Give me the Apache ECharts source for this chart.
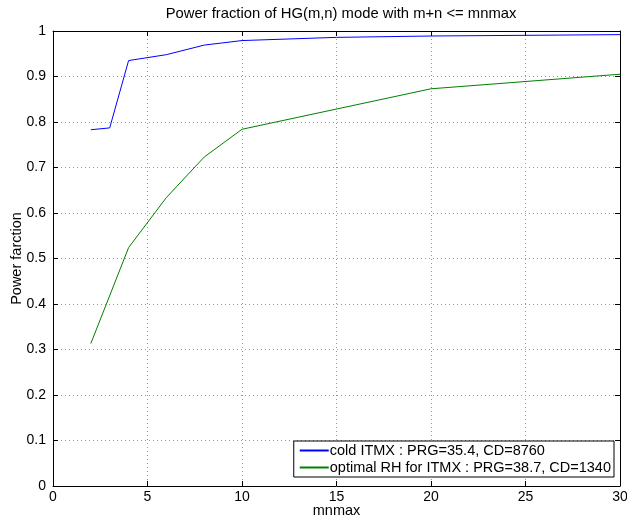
<!DOCTYPE html>
<html><head><meta charset="utf-8">
<script src="https://cdn.jsdelivr.net/npm/echarts@6/dist/echarts.min.js"></script>
<style>html,body{margin:0;padding:0;background:#fff}#c{width:627px;height:522px}</style>
</head><body><div id="c"></div>
<script>
const titleText = "Power fraction of HG(m,n) mode with m+n <= mnmax";
const xLabel = "mnmax";
const yLabel = "Power farction";
const seriesNames = ["cold ITMX : PRG=35.4, CD=8760", "optimal RH for ITMX : PRG=38.7, CD=1340"];
const coldX = [2, 3, 4, 6, 8, 10, 15, 20, 30];
const coldY = [0.783, 0.787, 0.935, 0.948, 0.969, 0.979, 0.986, 0.989, 0.992];
const optX = [2, 4, 6, 8, 10, 20, 30];
const optY = [0.313, 0.524, 0.634, 0.723, 0.784, 0.873, 0.905];
const xTicks = [0, 5, 10, 15, 20, 25, 30];
const yTicks = [0, 0.1, 0.2, 0.3, 0.4, 0.5, 0.6, 0.7, 0.8, 0.9, 1];

const font = "Liberation Sans, Arial, Helvetica, sans-serif";
const chart = echarts.init(document.getElementById('c'), null, {renderer: 'canvas'});
const grid = {left: 53, right: 7, top: 31, bottom: 36, containLabel: false, outerBoundsMode: 'none'};
const commonX = {type: 'value', min: xTicks[0], max: xTicks[xTicks.length-1], interval: 5};
const commonY = {type: 'value', min: yTicks[0], max: yTicks[yTicks.length-1], interval: 0.1};
chart.setOption({
  animation: false,
  backgroundColor: '#fff',
  title: {text: titleText, left: 336, top: 1, textAlign: 'center',
    textStyle: {fontFamily: font, fontSize: 14.8, fontWeight: 'normal', color: '#000'}},
  grid: grid,
  legend: {
    orient: 'vertical', right: 13, bottom: 45,
    backgroundColor: '#fff', borderColor: '#000', borderWidth: 1,
    padding: [2, 3, 2, 6], itemGap: 2, itemWidth: 29, itemHeight: 2, icon: 'rect',
    textStyle: {fontFamily: font, fontSize: 14.5, color: '#000', padding: [0,0,0,-4]},
    data: seriesNames
  },
  xAxis: [
    Object.assign({}, commonX, {position: 'bottom',
      name: xLabel, nameLocation: 'middle', nameGap: 17, nameMoveOverlap: false,
      nameTextStyle: {fontFamily: font, fontSize: 14.5, color: '#000'},
      axisLine: {show: true, lineStyle: {color: '#000', width: 1}},
      axisTick: {show: true, inside: true, length: 5, lineStyle: {color: '#000'}},
      axisLabel: {fontFamily: font, fontSize: 14, color: '#000', margin: 4,
        formatter: v => String(v)},
      splitLine: {show: true, lineStyle: {color: '#999', type: [1, 3], width: 1}}}),
    Object.assign({}, commonX, {position: 'top',
      axisLine: {show: true, onZero: false, lineStyle: {color: '#000', width: 1}},
      axisTick: {show: true, inside: true, length: 5, lineStyle: {color: '#000'}},
      axisLabel: {show: false}, splitLine: {show: false}})
  ],
  yAxis: [
    Object.assign({}, commonY, {position: 'left',
      name: yLabel, nameLocation: 'middle', nameGap: 29, nameRotate: 90, nameMoveOverlap: false,
      nameTextStyle: {fontFamily: font, fontSize: 14.5, color: '#000'},
      axisLine: {show: true, lineStyle: {color: '#000', width: 1}},
      axisTick: {show: true, inside: true, length: 5, lineStyle: {color: '#000'}},
      axisLabel: {fontFamily: font, fontSize: 14, color: '#000', margin: 7,
        formatter: v => { const s = +v.toFixed(1); return s === 0 ? '0' : s === 1 ? '1' : String(s); }},
      splitLine: {show: true, lineStyle: {color: '#999', type: [1, 3], width: 1}}}),
    Object.assign({}, commonY, {position: 'right',
      axisLine: {show: true, onZero: false, lineStyle: {color: '#000', width: 1}},
      axisTick: {show: true, inside: true, length: 5, lineStyle: {color: '#000'}},
      axisLabel: {show: false}, splitLine: {show: false}})
  ],
  series: [
    {name: seriesNames[0], type: 'line', xAxisIndex: 0, yAxisIndex: 0,
      data: coldX.map((x, i) => [x, coldY[i]]), showSymbol: false, symbol: 'none',
      lineStyle: {color: '#0000ff', width: 1}, itemStyle: {color: '#0000ff'}},
    {name: seriesNames[1], type: 'line', xAxisIndex: 0, yAxisIndex: 0,
      data: optX.map((x, i) => [x, optY[i]]), showSymbol: false, symbol: 'none',
      lineStyle: {color: '#008000', width: 1}, itemStyle: {color: '#008000'}}
  ]
});
</script></body></html>
